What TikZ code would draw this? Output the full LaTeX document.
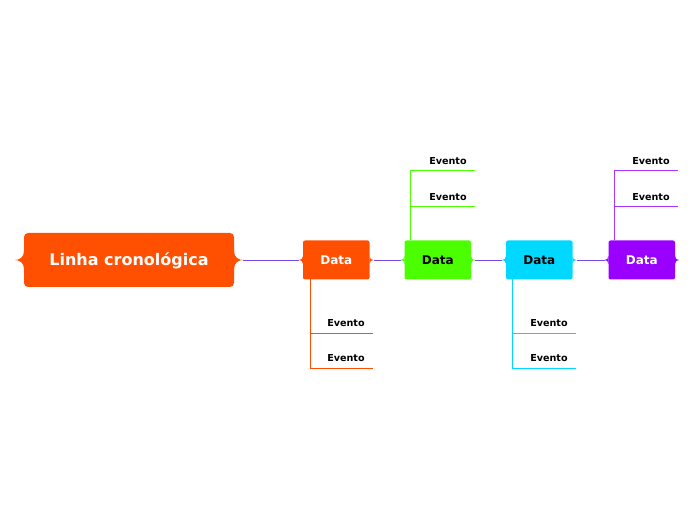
\documentclass[tikz,border=0pt]{standalone}
\usepackage{fontspec}
\setmainfont{DejaVu Sans}
\usetikzlibrary{positioning}

\tikzset{
  topic/.style={rectangle, rounded corners=2pt, minimum width=66.5pt, minimum height=39pt, inner sep=0pt, outer sep=0pt, font=\fontsize{12}{14}\selectfont\bfseries},
  evento/.style={inner sep=0pt, font=\fontsize{9.6}{11}\selectfont\bfseries},
  timeline/.style={draw=linecolor, line width=0.9pt},
  branch/.style={line width=1pt}
}

% small tabs on both sides of a node
\newcommand{\tabs}[3]{%
  \fill[#3] ([yshift=#2]#1.west) .. controls +(0,-#2*0.7) and +(#2*0.5,0) .. ([xshift=-#2]#1.west)
            .. controls +(#2*0.5,0) and +(0,#2*0.7) .. ([yshift=-#2]#1.west) -- cycle;
  \fill[#3] ([yshift=#2]#1.east) .. controls +(0,-#2*0.7) and +(-#2*0.5,0) .. ([xshift=#2]#1.east)
            .. controls +(-#2*0.5,0) and +(0,#2*0.7) .. ([yshift=-#2]#1.east) -- cycle;
}

\begin{document}
\begin{tikzpicture}[x=1pt, y=1pt]

		% Colors
		\definecolor{orangecolor}{RGB}{255,79,0}
		\definecolor{greencolor}{RGB}{76,255,0}
		\definecolor{cyancolor}{RGB}{0,216,255}
		\definecolor{purplecolor}{RGB}{153,0,255}
		\definecolor{linecolor}{RGB}{115,75,230}

		\useasboundingbox (0,0) rectangle (696,520);

		% Main topic
		\node (main) [rectangle, rounded corners=4pt, fill=orangecolor, text=white, minimum width=210pt, minimum height=54pt, outer sep=0pt, text depth=1pt, font=\fontsize{16}{18}\selectfont\bfseries] at (129,260) {Linha cronológica};

		% Dates
		\node (d1) [topic, fill=orangecolor, text=white, right=69pt of main] {Data};
		\node (d2) [topic, fill=greencolor, text=black, right=35pt of d1] {Data};
		\node (d3) [topic, fill=cyancolor, text=black, right=35pt of d2] {Data};
		\node (d4) [topic, fill=purplecolor, text=white, right=36pt of d3] {Data};

		% Tabs
		\tabs{main}{9}{orangecolor}
		\tabs{d1}{4}{orangecolor}
		\tabs{d2}{4}{greencolor}
		\tabs{d3}{4}{cyancolor}
		\tabs{d4}{4}{purplecolor}

		% Timeline
		\draw[timeline] ([xshift=9pt]main.east) -- ([xshift=-4pt]d1.west);
		\draw[timeline] ([xshift=4pt]d1.east) -- ([xshift=-4pt]d2.west);
		\draw[timeline] ([xshift=4pt]d2.east) -- ([xshift=-4pt]d3.west);
		\draw[timeline] ([xshift=4pt]d3.east) -- ([xshift=-4pt]d4.west);

		% Events
		\node (e11) [evento] at (346,197) {Evento};
		\node (e12) [evento] at (346,162) {Evento};
		\node (e21) [evento] at (448,323) {Evento};
		\node (e22) [evento] at (448,359) {Evento};
		\node (e31) [evento] at (549,197) {Evento};
		\node (e32) [evento] at (549,162) {Evento};
		\node (e41) [evento] at (651,323) {Evento};
		\node (e42) [evento] at (651,359) {Evento};

		\coordinate (d1root) at ([xshift=7pt]d1.south west);
		\coordinate (d2root) at ([xshift=6pt]d2.north west);
		\coordinate (d3root) at ([xshift=6pt]d3.south west);
		\coordinate (d4root) at ([xshift=6pt]d4.north west);

		\coordinate (e11end) at (373,187);
		\coordinate (e12end) at (373,152);
		\coordinate (e21end) at (475,313);
		\coordinate (e22end) at (475,349);
		\coordinate (e31end) at (576,187);
		\coordinate (e32end) at (576,152);
		\coordinate (e41end) at (678,313);
		\coordinate (e42end) at (678,349);

		% Branches
		\draw[branch, draw=orangecolor] (d1root) |- (e12end);
		\draw[branch, draw=orangecolor] (d1root |- e11end) -- (e11end);
		\draw[branch, draw=greencolor] (d2root) |- (e22end);
		\draw[branch, draw=greencolor] (d2root |- e21end) -- (e21end);
		\draw[branch, draw=cyancolor] (d3root) |- (e32end);
		\draw[branch, draw=cyancolor] (d3root |- e31end) -- (e31end);
		\draw[branch, draw=purplecolor!80] (d4root) |- (e42end);
		\draw[branch, draw=purplecolor!80] (d4root |- e41end) -- (e41end);

	\end{tikzpicture}
\end{document}
